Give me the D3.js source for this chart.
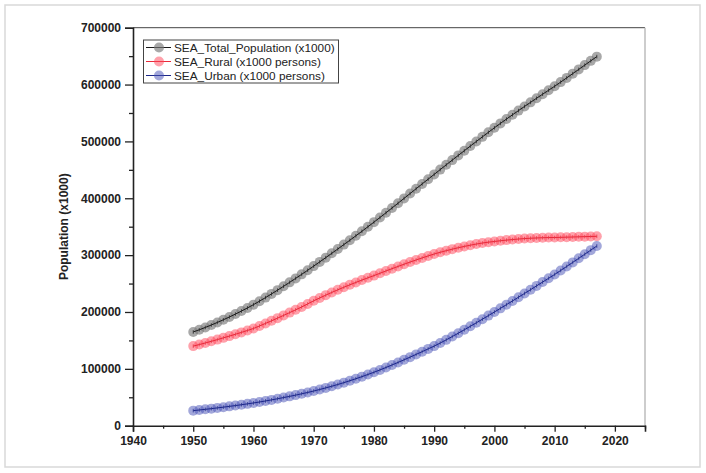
<!DOCTYPE html>
<html><head><meta charset="utf-8">
<script src="https://cdn.jsdelivr.net/npm/d3@7/dist/d3.min.js"></script>
<style>body{margin:0;background:#fff}svg{display:block}text{font-family:"Liberation Sans",Arial,sans-serif}</style>
</head><body><svg id="c" width="706" height="473"></svg>
<script>
const years = d3.range(1950, 2018);
const totalPop = [164.9,168.7,172.8,177.1,181.6,186.3,191.2,196.3,201.6,207.1,
212.9,219.0,225.3,231.8,238.4,245.2,252.1,259.1,266.2,273.4,
280.7,288.1,295.6,303.2,310.8,318.5,326.2,334.0,341.9,349.9,
358.0,366.2,374.5,382.9,391.3,399.8,408.3,416.8,425.2,433.6,
442.0,450.4,458.8,467.1,475.4,483.6,491.8,499.9,508.0,516.0,
524.0,531.7,539.3,546.8,554.2,561.5,568.7,575.9,583.0,590.0,
597.0,604.3,611.7,619.2,626.7,634.2,641.7,649.1].map(v=>v*1000);
const ruralPop = [140.0,142.7,145.5,148.4,151.4,154.5,157.6,160.8,164.1,167.5,
171.0,175.4,179.9,184.5,189.2,194.0,198.9,203.8,208.8,214.2,
219.7,224.7,229.6,234.4,239.0,243.5,247.8,252.0,256.1,260.1,
264.0,268.1,272.2,276.2,280.1,284.0,287.8,291.5,295.1,298.6,
302.0,305.0,307.8,310.5,313.0,315.3,317.5,319.5,321.3,322.8,
324.0,325.3,326.4,327.4,328.3,329.1,329.7,330.2,330.6,330.9,
331.0,331.3,331.6,331.9,332.2,332.5,332.8,333.1].map(v=>v*1000);
const urbanPop = [26.5,27.6,28.8,30.0,31.3,32.6,34.0,35.4,36.9,38.4,
40.0,41.7,43.5,45.4,47.4,49.5,51.6,53.8,56.1,58.5,
61.0,63.7,66.5,69.4,72.5,75.7,79.1,82.6,86.3,90.1,
94.0,98.1,102.4,106.8,111.3,115.9,120.6,125.4,130.2,135.1,
140.0,145.4,151.0,156.8,162.7,168.7,174.8,181.0,187.3,193.6,
200.0,206.4,212.9,219.4,226.0,232.6,239.2,245.9,252.6,259.3,
266.0,273.0,280.1,287.2,294.4,301.6,308.8,316.0].map(v=>v*1000);
const seriesNames = ["SEA_Total_Population (x1000)","SEA_Rural (x1000 persons)","SEA_Urban (x1000 persons)"];
const xTicks = [1940,1950,1960,1970,1980,1990,2000,2010,2020];
const yTicks = [0,100000,200000,300000,400000,500000,600000,700000];
const yLabel = "Population (x1000)";

const svg = d3.select("#c");
const L=133, R=645, T=27.7, B=425.7;
const x = d3.scaleLinear().domain([1940,2025]).range([L,R]);
const y = d3.scaleLinear().domain([0,700000]).range([B,T]);

svg.append("rect").attr("x",5).attr("y",5).attr("width",695).attr("height",462)
  .attr("fill","#fff").attr("stroke","#d9d9d9").attr("stroke-width",1.5);

// frame
svg.append("line").attr("x1",L).attr("x2",R).attr("y1",T).attr("y2",T).attr("stroke","#444").attr("stroke-width",1);
svg.append("line").attr("x1",R).attr("x2",R).attr("y1",T).attr("y2",B).attr("stroke","#bdbdbd").attr("stroke-width",1.5);

// axes
const xAxis = svg.append("g").attr("transform",`translate(0,${B})`)
  .call(d3.axisBottom(x).tickValues(xTicks).tickFormat(d3.format("d")).tickSize(6).tickPadding(5));
const xMinor = svg.append("g").attr("transform",`translate(0,${B})`)
  .call(d3.axisBottom(x).tickValues(d3.range(1945,2026,10)).tickFormat("").tickSize(3));
const yAxis = svg.append("g").attr("transform",`translate(${L},0)`)
  .call(d3.axisLeft(y).tickValues(yTicks).tickFormat(d3.format("d")).tickSize(8).tickPadding(4));
const yMinor = svg.append("g").attr("transform",`translate(${L},0)`)
  .call(d3.axisLeft(y).tickValues(d3.range(50000,700000,100000)).tickFormat("").tickSize(4));
[xAxis,xMinor,yAxis,yMinor].forEach(g=>{
  g.select(".domain").attr("stroke","#222").attr("stroke-width",1.6);
  g.selectAll(".tick line").attr("stroke","#222").attr("stroke-width",1.3);
  g.selectAll("text").attr("font-size",12).attr("font-weight","bold").attr("fill","#222")
   .attr("font-family","'Liberation Sans',Arial,sans-serif");
});
xMinor.select(".domain").remove(); yMinor.select(".domain").remove();

svg.append("text").attr("transform",`translate(68,${(T+B)/2}) rotate(-90)`)
  .attr("text-anchor","middle").attr("font-size",12).attr("font-weight","bold").attr("fill","#222").text(yLabel);

const series = [
  {vals: totalPop, fill:"#7a7a7a", fo:0.65, line:"#1a1a1a"},
  {vals: ruralPop, fill:"#ff4457", fo:0.5, line:"#e82a3a"},
  {vals: urbanPop, fill:"#4550b5", fo:0.5, line:"#1c2788"}
];
const lineGen = d3.line().x((d,i)=>x(years[i])).y(d=>y(d));
series.forEach(s=>{
  const g = svg.append("g");
  g.selectAll("circle").data(s.vals).join("circle")
    .attr("cx",(d,i)=>x(years[i])).attr("cy",d=>y(d)).attr("r",5)
    .attr("fill",s.fill).attr("fill-opacity",s.fo);
  g.append("path").datum(s.vals).attr("d",lineGen).attr("fill","none").attr("stroke",s.line).attr("stroke-width",1);
  g.selectAll("path.m").data(s.vals).join("path").attr("class","m")
    .attr("d",(d,i)=>{const cx=x(years[i]), cy=y(d); return `M${cx},${cy-1.8}V${cy+1.8}`;})
    .attr("stroke",s.line).attr("stroke-width",0.9).attr("stroke-opacity",0.8);
});

// legend
const lg = svg.append("g");
lg.append("rect").attr("x",143.5).attr("y",40).attr("width",195).attr("height",43)
  .attr("fill","#fff").attr("stroke","#444").attr("stroke-width",1);
const rowsY = [47.5,61.5,75.5];
series.forEach((s,i)=>{
  lg.append("line").attr("x1",146).attr("x2",171).attr("y1",rowsY[i]).attr("y2",rowsY[i]).attr("stroke",s.line).attr("stroke-width",1);
  lg.append("circle").attr("cx",159).attr("cy",rowsY[i]).attr("r",5).attr("fill",s.fill).attr("fill-opacity",s.fo);
  lg.append("text").attr("x",174).attr("y",rowsY[i]).attr("dy","0.36em").attr("font-size",11.8).attr("fill","#222").text(seriesNames[i]);
});
</script></body></html>
